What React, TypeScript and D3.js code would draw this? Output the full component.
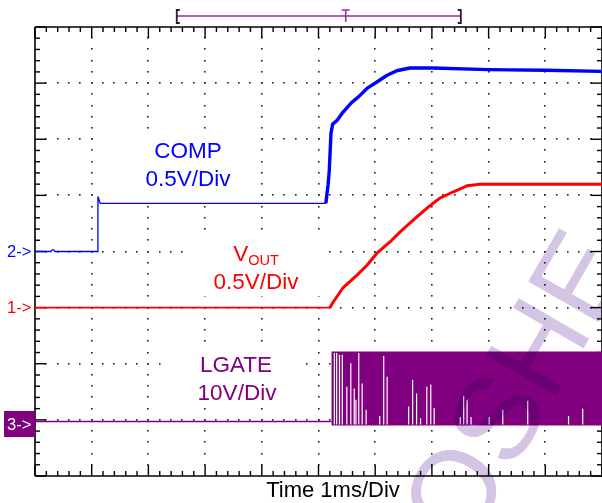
import React from "react";
import * as d3 from "d3";

// ---- data (time in ms, levels in divisions above each channel's ground marker) ----
const compTime = [0, 0.28, 0.3, 0.33, 0.35, 1.11, 1.11, 1.15, 5.13, 5.17, 5.19, 5.22, 5.25, 5.33, 5.43, 5.59, 5.7, 5.86, 6.03, 6.21, 6.38, 6.61, 7.02, 8.0, 9.0, 10.0];
const compLevel = [0, 0, 0.03, 0.03, 0, 0, 0.98, 0.857, 0.857, 1.2, 1.44, 2.11, 2.27, 2.34, 2.48, 2.66, 2.75, 2.91, 3.02, 3.14, 3.22, 3.27, 3.27, 3.24, 3.23, 3.21];

const voutTime = [0, 5.2, 5.26, 5.43, 5.68, 5.86, 6.03, 6.26, 6.44, 6.67, 6.91, 7.14, 7.37, 7.62, 7.85, 10];
const voutLevel = [0, 0, 0.1, 0.35, 0.58, 0.76, 0.97, 1.17, 1.35, 1.56, 1.77, 1.95, 2.06, 2.17, 2.2, 2.2];

const lgateTime = [0, 5.23];
const lgateLevel = [0, 0];
const lgateBandTime = [5.23, 10];
const lgateBandHigh = [1.25, 1.25];
const lgateBandLow = [-0.07, -0.07];
const gapTime = [5.28, 5.32, 5.37, 5.42, 5.5, 5.57, 5.63, 5.66, 5.71, 5.77, 5.84, 6.08, 6.15, 6.21, 6.59, 6.66, 6.73, 6.8, 6.91, 6.98, 7.04, 7.5, 7.56, 7.62, 7.69, 8.01, 8.25, 8.69, 9.41, 9.66];
const gapTop = [1.22, 1.22, 1.19, 1.19, 0.62, 1.04, 0.59, 0.39, 1.22, 0.68, 0.21, 0.1, 1.17, 0.8, 0.27, 0.74, 0.5, 0.06, 0.62, 0.66, 0.24, 0.08, 0.46, 0.39, 0.08, 0.08, 0.21, 0.37, 0.1, 0.23];

const compGround = 4;
const voutGround = 3;
const lgateGround = 0.97;

const recordWindow = [2.5, 7.51];
const triggerTime = 5.48;

const xDivs = 10;
const yDivs = 8;
const minorPerDiv = 5;

const FONT = "'Liberation Sans', Arial, sans-serif";

export default function App() {
  const x = d3.scaleLinear().domain([0, xDivs]).range([35, 602]);
  const y = d3.scaleLinear().domain([0, yDivs]).range([476, 27]);

  const xMinor = d3.range(0, xDivs * minorPerDiv + 1).map((i) => i / minorPerDiv);
  const yMinor = d3.range(0, yDivs * minorPerDiv + 1).map((i) => i / minorPerDiv);
  const xMajor = d3.range(1, xDivs);
  const yMajor = d3.range(1, yDivs);

  const isMajor = (v: number) => Math.abs(v - Math.round(v)) < 1e-6;

  const lineFor = (ground: number) =>
    d3
      .line<[number, number]>()
      .x((d) => x(d[0]))
      .y((d) => y(ground + d[1]));

  const compPts = compTime.map((t, i) => [t, compLevel[i]] as [number, number]);
  const compFlat = compPts.filter((d) => d[0] <= 5.14);
  const compRise = compPts.filter((d) => d[0] >= 5.13);
  const voutPts = voutTime.map((t, i) => [t, voutLevel[i]] as [number, number]);
  const voutFlat = voutPts.filter((d) => d[0] <= 5.2);
  const voutRise = voutPts.filter((d) => d[0] >= 5.2);
  const lgatePts = lgateTime.map((t, i) => [t, lgateLevel[i]] as [number, number]);

  const band = d3
    .area<number>()
    .x((t) => x(t))
    .y0((_, i) => y(lgateGround + lgateBandLow[i]))
    .y1((_, i) => y(lgateGround + lgateBandHigh[i]));

  const tickLen = (v: number) => (isMajor(v) ? 11 : 5);
  const dot = (px: number, py: number, key: string) => (
    <rect key={key} x={Math.round(px) - 1} y={Math.round(py) - 1} width={1.6} height={1.6} />
  );

  return (
    <div style={{ position: "absolute", left: 0, top: 0 }}>
      <svg width={602} height={503} style={{ display: "block", background: "#fff" }} fontFamily={FONT}>
        {/* grid dots */}
        <g fill="#222">
          {xMajor.map((gx) =>
            yMinor.filter((v) => v > 0 && v < yDivs).map((v) => dot(x(gx), y(v), `v${gx}-${v}`))
          )}
          {yMajor.map((gy) =>
            xMinor.filter((v) => v > 0 && v < xDivs).map((v) => dot(x(v), y(gy), `h${gy}-${v}`))
          )}
        </g>

        {/* label backgrounds */}
        <g fill="#fff">
          <rect x={101} y={133} width={158} height={67} />
          <rect x={189} y={233} width={137} height={63} />
          <rect x={167} y={346} width={139} height={60} />
        </g>

        {/* frame */}
        <g stroke="#000" strokeWidth={1.6} fill="none">
          <line x1={x(0)} x2={x(xDivs)} y1={y(yDivs)} y2={y(yDivs)} />
          <line x1={x(0)} x2={x(xDivs)} y1={y(0)} y2={y(0)} />
          <line x1={x(0)} x2={x(0)} y1={y(0)} y2={y(yDivs)} />
          <line x1={x(xDivs)} x2={x(xDivs)} y1={y(0)} y2={y(yDivs)} />
        </g>
        <g stroke="#000" strokeWidth={1.4}>
          {xMinor.map((v) => (
            <g key={`xt${v}`}>
              <line x1={x(v)} x2={x(v)} y1={y(yDivs)} y2={y(yDivs) + tickLen(v)} />
              <line x1={x(v)} x2={x(v)} y1={y(0)} y2={y(0) - tickLen(v)} />
            </g>
          ))}
          {yMinor.map((v) => (
            <g key={`yt${v}`}>
              <line x1={x(0)} x2={x(0) + tickLen(v)} y1={y(v)} y2={y(v)} />
              <line x1={x(xDivs)} x2={x(xDivs) - tickLen(v)} y1={y(v)} y2={y(v)} />
            </g>
          ))}
        </g>

        {/* record / trigger bar */}
        <g stroke="#a0279f" strokeWidth={1.5} fill="none">
          <line x1={x(recordWindow[0])} x2={x(recordWindow[1])} y1={16} y2={16} />
          <line x1={x(triggerTime) - 4} x2={x(triggerTime) + 4} y1={10} y2={10} />
          <line x1={x(triggerTime)} x2={x(triggerTime)} y1={10} y2={22} />
        </g>
        <g stroke="#3a1040" strokeWidth={1.8} fill="none">
          <path d={`M${x(recordWindow[0]) + 3},10 H${x(recordWindow[0])} V23 H${x(recordWindow[0]) + 3}`} />
          <path d={`M${x(recordWindow[1]) - 3},10 H${x(recordWindow[1])} V23 H${x(recordWindow[1]) - 3}`} />
        </g>

        {/* LGATE */}
        <path d={band(lgateBandTime) ?? ""} fill="#800080" />
        <g stroke="#fff" strokeWidth={1.2}>
          {gapTime.map((t, i) => (
            <line key={`g${i}`} x1={x(t)} x2={x(t)} y1={y(lgateGround + lgateBandLow[0]) - 1} y2={y(lgateGround + gapTop[i])} />
          ))}
        </g>
        <path d={lineFor(lgateGround)(lgatePts) ?? ""} stroke="#800080" strokeWidth={1.4} fill="none" />

        {/* VOUT */}
        <path d={lineFor(voutGround)(voutFlat) ?? ""} stroke="#ff0000" strokeWidth={1.9} fill="none" />
        <path d={lineFor(voutGround)(voutRise) ?? ""} stroke="#ff0000" strokeWidth={3} fill="none" strokeLinejoin="round" />

        {/* COMP */}
        <path d={lineFor(compGround)(compFlat) ?? ""} stroke="#0000ff" strokeWidth={1.3} fill="none" />
        <path d={lineFor(compGround)(compRise) ?? ""} stroke="#0000ff" strokeWidth={3.4} fill="none" strokeLinejoin="round" />

        {/* labels */}
        <g fontSize={22.5} textAnchor="middle">
          <text x={188} y={158} fill="#0000ff">COMP</text>
          <text x={188} y={186} fill="#0000ff">0.5V/Div</text>
          <text x={256} y={261} fill="#ff0000">
            V<tspan fontSize={14.5} dy={4}>OUT</tspan>
          </text>
          <text x={256} y={289} fill="#ff0000">0.5V/Div</text>
          <text x={236} y={372} fill="#800080">LGATE</text>
          <text x={237} y={400} fill="#800080">10V/Div</text>
        </g>
        <text x={333} y={497} fontSize={22} textAnchor="middle" fill="#000">Time 1ms/Div</text>

        {/* channel markers */}
        <text x={7} y={257} fontSize={16.5} fill="#0000ff">2-&gt;</text>
        <text x={7} y={313} fontSize={16.5} fill="#ff0000">1-&gt;</text>
        <rect x={4} y={411} width={31} height={26} fill="#800080" />
        <text x={7} y={430} fontSize={16.5} fill="#fff">3-&gt;</text>

        {/* watermark */}
        <g style={{ mixBlendMode: "multiply" }} fill="#d3c5e3">
          <text transform="translate(466,552) rotate(-60)" fontSize={118}>OSHE</text>
        </g>
      </svg>
    </div>
  );
}
